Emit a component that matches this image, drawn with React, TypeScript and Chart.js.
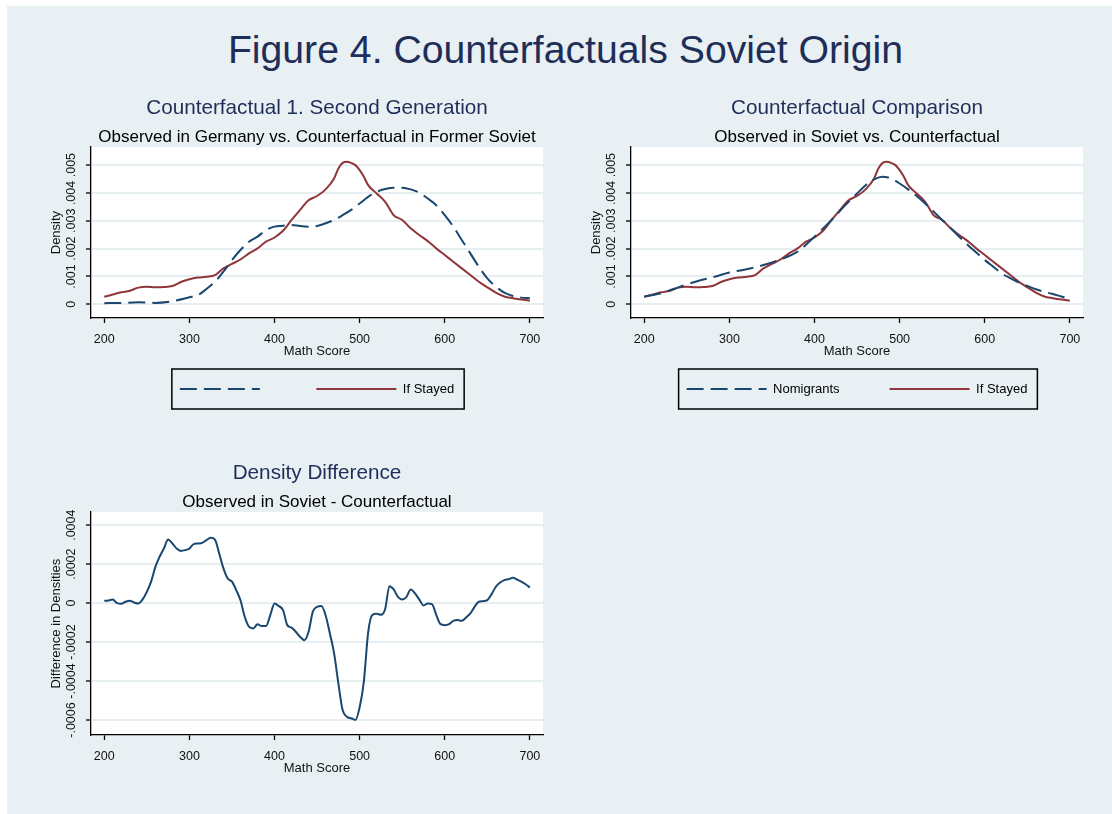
import React, { useEffect, useRef } from 'react';
import { Chart, registerables } from 'chart.js';

Chart.register(...registerables);

const FONT = '"Liberation Sans", Arial, Helvetica, sans-serif';
const NAVY = '#1a476f';
const MAROON = '#90353b';
const TITLE_COLOR = '#1f2d59';
const BG = '#e8f0f3';
const GRID = '#e6eef1';

Chart.defaults.font.family = FONT;

const figureTitle = 'Figure 4. Counterfactuals Soviet Origin';

// ---------- ticks ----------
const xTicks = [200, 300, 400, 500, 600, 700];
const xTickLabels = ['200', '300', '400', '500', '600', '700'];
const densityTicks = [0, 0.001, 0.002, 0.003, 0.004, 0.005];
const densityTickLabels = ['0', '.001', '.002', '.003', '.004', '.005'];
const diffTicks = [-0.0006, -0.0004, -0.0002, 0, 0.0002, 0.0004];
const diffTickLabels = ['-.0006', '-.0004', '-.0002', '0', '.0002', '.0004'];

// ---------- series ----------
const stayedScores = [200, 210, 220, 230, 240, 250, 260, 270, 280, 290, 300, 310, 320, 330, 340, 350, 360, 370, 380, 390, 400, 410, 420, 430, 440, 450, 460, 470, 475, 480, 485, 490, 495, 500, 505, 510, 520, 530, 540, 550, 560, 570, 580, 590, 600, 610, 620, 630, 640, 650, 660, 670, 680, 690, 700];
const ifStayed = [0.00027, 0.00035, 0.00043, 0.00049, 0.0006, 0.00063, 0.00061, 0.00062, 0.00066, 0.0008, 0.0009, 0.00096, 0.00099, 0.00105, 0.00129, 0.00145, 0.00161, 0.00183, 0.00201, 0.00225, 0.0024, 0.00264, 0.00303, 0.00339, 0.00374, 0.00389, 0.00413, 0.00452, 0.00488, 0.00508, 0.00512, 0.00508, 0.005, 0.00482, 0.00458, 0.00428, 0.00398, 0.00368, 0.0032, 0.00303, 0.00273, 0.00249, 0.00227, 0.00201, 0.00177, 0.00153, 0.00129, 0.00105, 0.00081, 0.00061, 0.00042, 0.00028, 0.00022, 0.00017, 0.00013];

const germanyScores = [200, 220, 240, 260, 280, 300, 310, 320, 330, 340, 350, 360, 370, 380, 390, 400, 410, 420, 430, 440, 450, 460, 470, 480, 490, 500, 510, 520, 530, 540, 550, 560, 570, 580, 590, 600, 610, 620, 630, 640, 650, 660, 670, 680, 690, 700];
const germanyObserved = [0.00004, 0.00005, 0.00007, 0.00005, 0.00011, 0.00025, 0.00033, 0.00055, 0.00081, 0.00117, 0.00159, 0.00195, 0.00225, 0.00243, 0.00267, 0.00279, 0.00282, 0.00285, 0.00281, 0.00279, 0.00281, 0.00291, 0.00303, 0.0032, 0.00339, 0.00362, 0.00386, 0.00404, 0.00414, 0.00419, 0.00419, 0.00413, 0.00401, 0.0038, 0.00356, 0.0032, 0.00279, 0.00231, 0.00183, 0.00135, 0.00093, 0.00063, 0.00042, 0.0003, 0.00024, 0.00022];

const nomigrantScores = [200, 220, 240, 260, 280, 300, 320, 340, 360, 380, 400, 410, 420, 430, 440, 450, 460, 470, 480, 490, 500, 510, 520, 530, 540, 550, 560, 570, 580, 590, 600, 610, 620, 630, 640, 650, 660, 670, 680, 690, 700];
const nomigrants = [0.000275, 0.0004, 0.00061, 0.00081, 0.00097, 0.00114, 0.00126, 0.00141, 0.00161, 0.00189, 0.00243, 0.00272, 0.00303, 0.00336, 0.00368, 0.00398, 0.00428, 0.00449, 0.00458, 0.00452, 0.00434, 0.00413, 0.00389, 0.00362, 0.00333, 0.00303, 0.00273, 0.00243, 0.00213, 0.00186, 0.00159, 0.00135, 0.00111, 0.00094, 0.00078, 0.00066, 0.00054, 0.00045, 0.00037, 0.00028, 0.00019];

const diffScores = [200, 205, 210, 215, 220, 225, 230, 235, 240, 245, 250, 255, 260, 265, 270, 275, 280, 285, 290, 295, 300, 305, 310, 315, 320, 325, 330, 335, 340, 345, 350, 355, 360, 365, 370, 375, 380, 385, 390, 395, 400, 405, 410, 415, 420, 425, 430, 435, 440, 445, 450, 455, 460, 465, 470, 475, 480, 485, 490, 495, 500, 505, 510, 515, 520, 525, 530, 535, 540, 545, 550, 555, 560, 565, 570, 575, 580, 585, 590, 595, 600, 605, 610, 615, 620, 625, 630, 635, 640, 645, 650, 655, 660, 665, 670, 675, 680, 685, 690, 695, 700];
const densityDiff = [0.000012, 0.000014, 0.000019, 0.0, -0.000003, 0.000007, 0.000012, 0.000003, -0.000002, 0.000019, 0.000058, 0.00011, 0.000186, 0.000238, 0.00028, 0.000326, 0.000306, 0.00028, 0.000268, 0.000272, 0.00028, 0.000303, 0.000306, 0.000309, 0.000323, 0.000335, 0.000326, 0.000255, 0.000178, 0.000126, 0.00011, 0.000067, 0.000015, -0.00007, -0.000121, -0.00013, -0.000109, -0.000118, -0.000118, -0.000062, -0.000002, -0.000015, -0.000036, -0.000113, -0.000126, -0.000147, -0.000173, -0.00019, -0.000147, -0.000044, -0.000019, -0.000015, -0.000062, -0.000156, -0.000258, -0.000412, -0.000549, -0.000583, -0.000591, -0.0006, -0.000535, -0.0004, -0.00015, -0.00006, -0.000055, -0.00006, -0.00003, 0.000087, 0.00007, 0.000032, 0.000019, 0.000032, 0.00007, 0.00005, 0.000019, -0.000012, -0.000002, -0.000005, -0.00006, -0.000108, -0.000113, -0.000108, -0.000091, -0.000087, -0.000091, -0.000074, -0.000053, -0.000019, 0.000007, 0.00001, 0.000015, 0.000046, 0.000084, 0.000106, 0.000118, 0.000123, 0.00013, 0.000121, 0.00011, 0.000097, 0.00008];

const pairs = (xs: number[], ys: number[]) => xs.map((x, i) => ({ x, y: ys[i] }));

const LEGEND_PAD = 50;
const LEGEND_FONT = 13;

// ---------- plugins ----------
const whitePlot = {
  id: 'whitePlot',
  beforeDraw(chart: any) {
    const { ctx, chartArea: a } = chart;
    ctx.save();
    ctx.fillStyle = '#ffffff';
    ctx.fillRect(a.left, a.top, a.right - a.left, a.bottom - a.top);
    ctx.restore();
  },
};

const legendFrame = {
  id: 'legendFrame',
  afterLayout(chart: any, _a: any, opts: any) {
    if (!opts || !opts.enabled || !chart.legend) return;
    const lg = chart.legend;
    const h = lg.height;
    const top = chart.chartArea.bottom + opts.itemMid - opts.pad - opts.fontSize / 2;
    lg.top = top;
    lg.bottom = top + h;
  },
  afterDraw(chart: any, _a: any, opts: any) {
    if (!opts || !opts.enabled || !chart.legend) return;
    const hb = chart.legend.legendHitBoxes || [];
    if (!hb.length) return;
    const left = Math.min(...hb.map((h: any) => h.left)) - opts.padL;
    const right = Math.max(...hb.map((h: any) => h.left + h.width)) + opts.padR;
    const cy = chart.chartArea.bottom + opts.itemMid;
    const { ctx } = chart;
    ctx.save();
    ctx.strokeStyle = '#000';
    ctx.lineWidth = 1.5;
    ctx.strokeRect(left, cy - opts.half, right - left, opts.half * 2);
    ctx.restore();
  },
};

type Series = { label: string; xs: number[]; ys: number[]; color: string; dash?: number[] };
type PanelSpec = {
  left: number; top: number; width: number; height: number;
  title: string; subtitle: string; yTitle: string;
  yMin: number; yMax: number; yTicks: number[]; yTickLabels: string[]; yTickPad: number;
  series: Series[]; legend: boolean;
};

function buildConfig(spec: PanelSpec): any {
  return {
    type: 'line',
    data: {
      datasets: spec.series.map((s) => ({
        label: s.label,
        data: pairs(s.xs, s.ys),
        borderColor: s.color,
        backgroundColor: s.color,
        borderWidth: 2,
        borderDash: s.dash || [],
        pointRadius: 0,
        cubicInterpolationMode: 'monotone',
        fill: false,
      })),
    },
    options: {
      responsive: false,
      maintainAspectRatio: false,
      animation: false,
      layout: { padding: { left: 0, right: 17, top: 0, bottom: 0 } },
      scales: {
        x: {
          type: 'linear',
          min: 184.4,
          max: 715.4,
          afterBuildTicks: (s: any) => { s.ticks = xTicks.map((v) => ({ value: v })); },
          afterFit: (s: any) => { s.height = 42; },
          ticks: {
            callback: (_v: any, i: number) => xTickLabels[i],
            padding: 9.5,
            autoSkip: false,
            maxRotation: 0,
            font: { size: 12.5 },
            color: '#111',
          },
          grid: { drawOnChartArea: false, drawTicks: true, tickLength: 5, tickColor: '#000', tickWidth: 1.3 },
          border: { color: '#000', width: 1.3 },
          title: { display: true, text: 'Math Score', color: '#111', font: { size: 13 }, padding: { top: 0, bottom: 0.5 } },
        },
        y: {
          type: 'linear',
          min: spec.yMin,
          max: spec.yMax,
          afterBuildTicks: (s: any) => { s.ticks = spec.yTicks.map((v) => ({ value: v })); },
          afterFit: (s: any) => { s.width = 51; },
          ticks: {
            callback: (_v: any, i: number) => spec.yTickLabels[i],
            minRotation: 90,
            maxRotation: 90,
            crossAlign: 'center',
            padding: spec.yTickPad,
            autoSkip: false,
            font: { size: 12.5 },
            color: '#111',
          },
          grid: { color: GRID, lineWidth: 2, drawTicks: true, tickLength: 5, tickColor: '#000', tickWidth: 1.3 },
          border: { color: '#000', width: 1.3 },
          title: { display: true, text: spec.yTitle, color: '#111', font: { size: 13 }, padding: { top: 8.9, bottom: 0 } },
        },
      },
      plugins: {
        tooltip: { enabled: false },
        title: {
          display: true,
          fullSize: false,
          text: spec.title,
          color: TITLE_COLOR,
          font: { size: 20.7, weight: 'normal' },
          padding: { top: 6.3, bottom: 5.6 },
        },
        subtitle: {
          display: true,
          fullSize: false,
          text: spec.subtitle,
          color: '#000',
          font: { size: 17, weight: 'normal' },
          padding: { top: 0, bottom: 0 },
        },
        legend: {
          display: spec.legend,
          position: 'bottom',
          fullSize: false,
          align: 'center',
          labels: {
            usePointStyle: true,
            pointStyle: 'line',
            pointStyleWidth: 80,
            boxHeight: LEGEND_FONT,
            padding: LEGEND_PAD,
            color: '#000',
            font: { size: LEGEND_FONT },
            generateLabels: (chart: any) => {
              const base = (Chart.defaults.plugins.legend.labels as any).generateLabels(chart);
              return base.map((it: any) => {
                const ds = chart.data.datasets[it.datasetIndex];
                return {
                  ...it,
                  lineDash: ds.borderDash || [],
                  lineWidth: 2,
                  strokeStyle: ds.borderColor,
                  fillStyle: ds.borderColor,
                  pointStyle: 'line',
                };
              });
            },
          },
        },
        legendFrame: { enabled: spec.legend, itemMid: 71, pad: LEGEND_PAD, fontSize: LEGEND_FONT, padL: 8, padR: 10, half: 20 },
      },
    },
    plugins: [whitePlot, legendFrame],
  };
}

function ChartPanel({ spec }: { spec: PanelSpec }) {
  const ref = useRef<HTMLCanvasElement>(null);
  useEffect(() => {
    const chart = new Chart(ref.current as HTMLCanvasElement, buildConfig(spec));
    return () => chart.destroy();
  }, []);
  return (
    <canvas
      ref={ref}
      width={spec.width}
      height={spec.height}
      style={{ position: 'absolute', left: spec.left, top: spec.top, width: spec.width, height: spec.height }}
    />
  );
}

// legend height = font + pad + 10
const LEGEND_H = LEGEND_FONT + LEGEND_PAD + 10;

const panel1: PanelSpec = {
  left: 40, top: 90, width: 520, height: 57 + 171 + 42 + LEGEND_H,
  title: 'Counterfactual 1. Second Generation',
  subtitle: 'Observed in Germany vs. Counterfactual in Former Soviet',
  yTitle: 'Density',
  yMin: -0.000492, yMax: 0.005646,
  yTicks: densityTicks, yTickLabels: densityTickLabels, yTickPad: 2.3,
  series: [
    { label: '', xs: germanyScores, ys: germanyObserved, color: NAVY, dash: [17, 7] },
    { label: 'If Stayed', xs: stayedScores, ys: ifStayed, color: MAROON },
  ],
  legend: true,
};

const panel2: PanelSpec = {
  left: 580, top: 90, width: 520, height: 57 + 171 + 42 + LEGEND_H,
  title: 'Counterfactual Comparison',
  subtitle: 'Observed in Soviet vs. Counterfactual',
  yTitle: 'Density',
  yMin: -0.000492, yMax: 0.005646,
  yTicks: densityTicks, yTickLabels: densityTickLabels, yTickPad: 2.3,
  series: [
    { label: 'Nomigrants', xs: nomigrantScores, ys: nomigrants, color: NAVY, dash: [17, 7] },
    { label: 'If Stayed', xs: stayedScores, ys: ifStayed, color: MAROON },
  ],
  legend: true,
};

const panel3: PanelSpec = {
  left: 40, top: 455, width: 520, height: 322,
  title: 'Density Difference',
  subtitle: 'Observed in Soviet - Counterfactual',
  yTitle: 'Difference in Densities',
  yMin: -0.000677, yMax: 0.000467,
  yTicks: diffTicks, yTickLabels: diffTickLabels, yTickPad: -3.2,
  series: [{ label: 'Difference', xs: diffScores, ys: densityDiff, color: NAVY }],
  legend: false,
};

export default function App() {
  return (
    <div style={{ position: 'fixed', left: 0, top: 0, width: 1112, height: 814, background: '#fff', overflow: 'hidden', fontFamily: FONT }}>
      <div style={{ position: 'absolute', left: 7, top: 6, width: 1105, height: 808, background: BG }} />
      <div
        style={{
          position: 'absolute', left: 0, top: 29.5, width: 1131, textAlign: 'center',
          fontSize: 39.2, lineHeight: '39px', color: TITLE_COLOR, whiteSpace: 'nowrap',
        }}
      >
        {figureTitle}
      </div>
      <ChartPanel spec={panel1} />
      <ChartPanel spec={panel2} />
      <ChartPanel spec={panel3} />
    </div>
  );
}
